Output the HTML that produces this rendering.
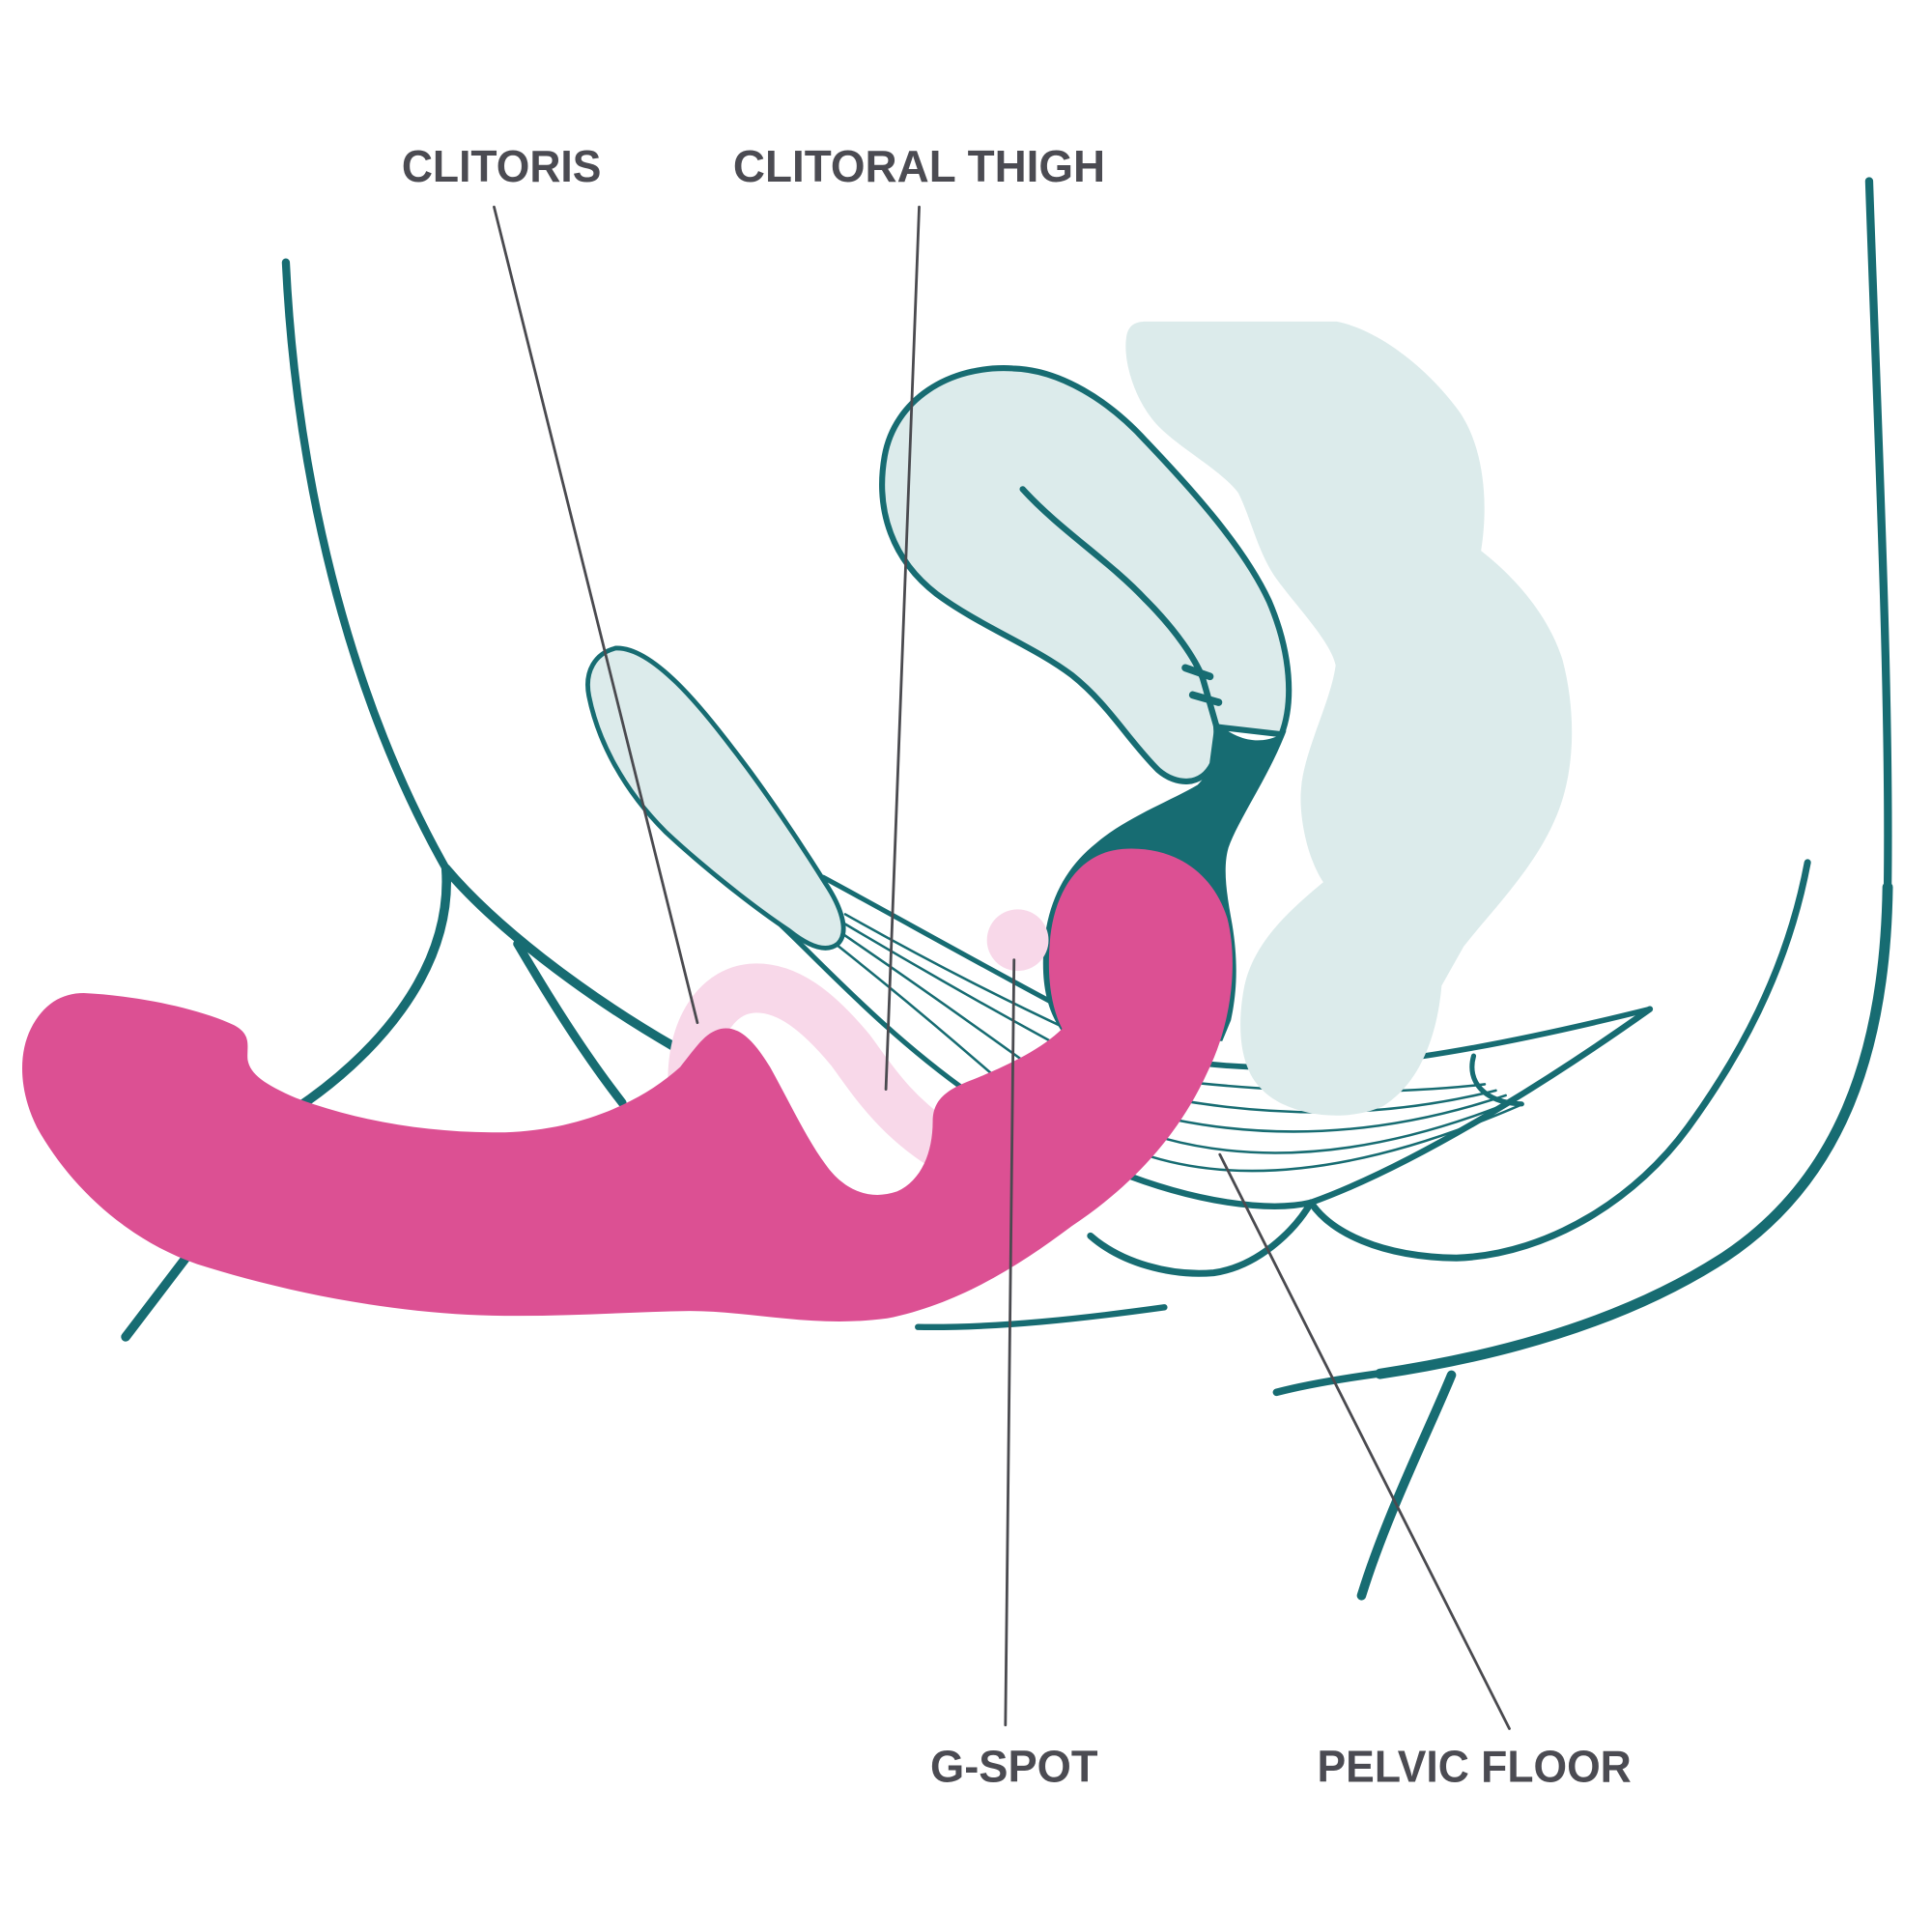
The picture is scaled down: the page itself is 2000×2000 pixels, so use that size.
<!DOCTYPE html>
<html>
<head>
<meta charset="utf-8">
<style>
html,body{margin:0;padding:0;background:#ffffff;}
svg{display:block;}
</style>
</head>
<body>
<svg width="2000" height="2000" viewBox="0 0 1568 1568" xmlns="http://www.w3.org/2000/svg">
<rect width="1568" height="1568" fill="#ffffff"/>

<!-- Pelvic floor, right body lines -->
<g fill="none" stroke="#176c72" stroke-linecap="round" stroke-linejoin="round">
  <!-- upper lens line -->
  <path d="M 975 863 C 1060 872, 1150 866, 1339 819" stroke-width="4.5"/>
  <!-- lower lens line -->
  <path d="M 1339 819 C 1260 875, 1150 945, 1064 976 C 1030 984, 970 976, 905 950" stroke-width="5"/>
  <!-- small semicircle -->
  <path d="M 1196 857 C 1190 878, 1205 895, 1235 896" stroke-width="4"/>
  <!-- thin fan lines -->
  <g stroke-width="2">
    <path d="M 972 879 Q 1100 892 1205 880"/>
    <path d="M 964 894 Q 1095 915 1214 885"/>
    <path d="M 955 909 Q 1085 935 1222 889"/>
    <path d="M 945 924 Q 1070 958 1230 893"/>
    <path d="M 935 939 Q 1055 975 1236 896"/>
  </g>
  <!-- scallops -->
  <path d="M 885 1003 C 910 1025, 950 1036, 985 1033 C 1020 1028, 1050 1000, 1064 976 C 1080 1000, 1120 1020, 1182 1021 C 1260 1018, 1330 970, 1370 915 C 1410 860, 1450 790, 1467 700" stroke-width="5.5"/>
  <!-- short line under toy -->
  <path d="M 745 1077 C 810 1078, 880 1070, 945 1061" stroke-width="5"/>
  <!-- big right curve -->
  <path d="M 1517 147 C 1524 350, 1534 560, 1532 720" stroke-width="6.5"/>
  <path d="M 1532 720 C 1530 860, 1490 960, 1400 1020 C 1320 1072, 1220 1100, 1120 1115" stroke-width="8.5"/>
  <path d="M 1125 1114 C 1080 1120, 1055 1125, 1036 1130" stroke-width="6"/>
  <path d="M 1178 1116 C 1160 1160, 1125 1230, 1105 1295" stroke-width="7.5"/>
</g>

<!-- rectum cloud -->
<path fill="#dcebeb" d="M 930 261 L 1085 261 C 1120 268, 1160 300, 1185 335 C 1205 365, 1208 410, 1202 447 C 1225 465, 1255 495, 1268 535 C 1280 580, 1278 630, 1262 665 C 1245 705, 1210 740, 1188 768 L 1170 800 C 1167 835, 1155 878, 1122 898 C 1090 912, 1045 905, 1025 885 C 1003 865, 1005 825, 1010 800 C 1018 765, 1045 740, 1074 716 C 1060 695, 1054 660, 1056 640 C 1058 610, 1080 570, 1084 540 C 1080 520, 1050 490, 1034 467 C 1020 445, 1015 420, 1005 400 C 990 380, 950 360, 935 340 C 918 318, 912 290, 914 275 C 915 265, 920 261, 930 261 Z"/>

<!-- left body lines -->
<g fill="none" stroke="#176c72" stroke-linecap="round" stroke-linejoin="round">
  <path d="M 232 213 C 240 380, 280 560, 362 705" stroke-width="6.5"/>
  <path d="M 362 705 C 400 750, 470 805, 548 850" stroke-width="7.5"/>
  <path d="M 362 705 C 368 790, 300 860, 240 900 L 150 1022 L 102 1085" stroke-width="7.5"/>
  <path d="M 420 766 C 440 800, 470 850, 505 895" stroke-width="7"/>
</g>

<!-- pubic ellipse + fan -->
<g stroke="#176c72" stroke-linecap="round" stroke-linejoin="round">
  <path fill="none" d="M 668 712 C 720 740, 800 785, 866 820" stroke-width="4"/>
  <path fill="none" d="M 634 751 C 670 785, 720 840, 788 888" stroke-width="4"/>
  <g fill="none" stroke-width="2">
    <path d="M 686 742 Q 780 795, 868 836"/>
    <path d="M 686 750 Q 770 800, 858 848"/>
    <path d="M 684 758 Q 760 810, 832 862"/>
    <path d="M 678 766 Q 740 815, 810 876"/>
  </g>
  <path fill="#dcebeb" stroke-width="3.8" d="M 500 526 C 483 530, 474 545, 478 565 C 485 600, 505 640, 540 675 C 570 703, 610 735, 640 755 C 655 767, 670 774, 680 766 C 690 756, 682 735, 670 717 C 650 685, 620 640, 595 608 C 570 575, 530 525, 500 526 Z"/>
</g>

<!-- bladder -->
<path fill="#dcebeb" stroke="#176c72" stroke-width="4.8" stroke-linejoin="round" d="M 822 299 C 770 296, 726 325, 718 370 C 710 415, 725 455, 760 482 C 795 508, 840 525, 870 548 C 900 572, 915 600, 940 625 C 955 638, 975 638, 984 620 L 988 590 L 1040 596 C 1050 570, 1048 530, 1030 488 C 1010 445, 970 400, 930 358 C 900 325, 860 300, 822 299 Z"/>
<g fill="none" stroke="#176c72" stroke-linecap="round">
  <path d="M 830 397 C 860 430, 900 455, 930 487 C 955 512, 970 535, 976 550 L 988 592" stroke-width="5"/>
  <path d="M 962 542 L 982 549" stroke-width="6"/>
  <path d="M 968 564 L 989 570" stroke-width="6"/>
</g>

<!-- dark teal urethra / vaginal sleeve -->
<path fill="#176c72" d="M 984 582 C 987 610, 984 625, 972 637 C 950 650, 915 663, 890 684 C 866 703, 850 730, 847 770 C 845 800, 850 822, 864 840 L 985 845 L 992 845 L 999 828 C 1004 805, 1005 780, 1000 750 C 996 728, 992 705, 997 688 C 1005 665, 1030 630, 1044 593 C 1030 604, 1005 606, 984 582 Z"/>

<!-- clitoris band and g-spot -->
<path fill="none" stroke="#f8d8e9" stroke-width="40" d="M 562 878 C 562 830, 585 803, 612 802 C 640 801, 665 822, 690 852 C 705 872, 725 905, 765 930"/>
<circle cx="826" cy="763" r="25" fill="#f8d8e9"/>

<!-- pink toy -->
<path fill="#dc5093" d="M 68 806 C 110 808, 160 818, 190 832 C 205 840, 200 850, 201 860 C 203 872, 215 880, 240 891 C 290 910, 350 920, 410 919 C 470 917, 520 895, 552 866 C 565 850, 572 838, 585 835 C 600 832, 612 845, 625 866 C 640 893, 655 925, 670 945 C 684 965, 705 975, 728 967 C 748 958, 757 935, 757 910 C 757 895, 765 885, 790 876 C 815 866, 845 852, 862 835 C 852 815, 850 790, 852 765 C 855 725, 875 692, 911 689 C 955 686, 985 710, 996 745 C 1005 780, 1000 830, 980 870 C 955 925, 915 965, 870 995 C 830 1025, 780 1058, 720 1070 C 660 1078, 610 1064, 560 1064 C 500 1065, 440 1070, 380 1067 C 300 1063, 220 1045, 160 1026 C 100 1005, 55 960, 30 915 C 15 885, 15 855, 25 835 C 35 815, 50 806, 68 806 Z"/>

<!-- leader lines -->
<g stroke="#4a4a4f" stroke-width="2.2" stroke-linecap="round" fill="none">
  <path d="M 401 168 L 566 830"/>
  <path d="M 746 168 L 719 884"/>
  <path d="M 823 779 L 816 1400"/>
  <path d="M 990 937 L 1225 1403"/>
</g>

<!-- labels -->
<g font-family="'Liberation Sans', Arial, sans-serif" font-weight="bold" font-size="36" fill="#4b4b52">
  <text x="326" y="147.5" textLength="162" lengthAdjust="spacingAndGlyphs">CLITORIS</text>
  <text x="595" y="147.5" textLength="302" lengthAdjust="spacingAndGlyphs">CLITORAL THIGH</text>
  <text x="755" y="1446" textLength="136" lengthAdjust="spacingAndGlyphs">G-SPOT</text>
  <text x="1069" y="1446" textLength="255" lengthAdjust="spacingAndGlyphs">PELVIC FLOOR</text>
</g>
</svg>
</body>
</html>
